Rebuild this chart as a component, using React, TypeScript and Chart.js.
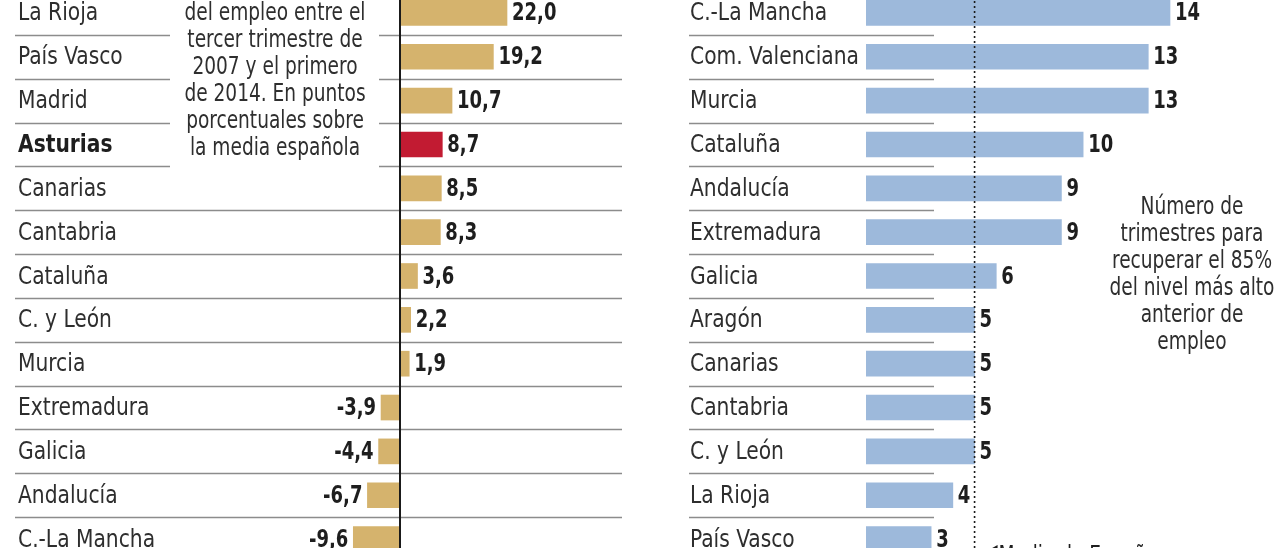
import React, { useEffect, useRef } from "react";
import { Chart, registerables } from "chart.js";

Chart.register(...registerables);

// ---------- DATA ----------
const leftCategories = [
  "La Rioja", "País Vasco", "Madrid", "Asturias", "Canarias", "Cantabria", "Cataluña",
  "C. y León", "Murcia", "Extremadura", "Galicia", "Andalucía", "C.-La Mancha",
];
const leftValues = [22.0, 19.2, 10.7, 8.7, 8.5, 8.3, 3.6, 2.2, 1.9, -3.9, -4.4, -6.7, -9.6];
const highlightRegion = "Asturias";

const rightCategories = [
  "C.-La Mancha", "Com. Valenciana", "Murcia", "Cataluña", "Andalucía", "Extremadura",
  "Galicia", "Aragón", "Canarias", "Cantabria", "C. y León", "La Rioja", "País Vasco",
];
const rightValues = [14, 13, 13, 10, 9, 9, 6, 5, 5, 5, 5, 4, 3];
const spainAverage = 5;
const spainAverageLabel = "Media de España";

const leftNote = [
  "del empleo entre el", "tercer trimestre de", "2007 y el primero",
  "de 2014. En puntos", "porcentuales sobre", "la media española",
];
const rightNote = [
  "Número de", "trimestres para", "recuperar el 85%", "del nivel más alto", "anterior de", "empleo",
];

// ---------- STYLE ----------
const FONT = '"DejaVu Sans Condensed", "Liberation Sans Narrow", sans-serif';
const GOLD = "#d5b36d";
const RED = "#c21b32";
const BLUE = "#9db9db";
const TEXT = "#2e2e2e";
const VALUE = "#1e1e1e";
const RULE = "#8c8c8c";
const OFFSET = 9; // canvas is shifted up by this many px
const W = 640;
const H = 570;

const LABEL_FONT = `25px ${FONT}`;
const LABEL_BOLD = `bold 25px ${FONT}`;
const LABEL_SX = 0.9;
const VALUE_FONT = `bold 25px ${FONT}`;
const VALUE_SX = 0.8;
const NOTE_FONT = `24px ${FONT}`;
const NOTE_SX = 0.86;

const fmtLeft = (v: number) => v.toFixed(1).replace(".", ",");

function drawText(
  ctx: CanvasRenderingContext2D,
  text: string,
  x: number,
  y: number,
  align: CanvasTextAlign,
  font: string,
  sx: number,
  color: string
) {
  ctx.save();
  ctx.font = font;
  ctx.fillStyle = color;
  ctx.textAlign = align;
  ctx.textBaseline = "middle";
  ctx.translate(x, y);
  ctx.scale(sx, 1);
  ctx.fillText(text, 0, 0);
  ctx.restore();
}

const leftPlugin = {
  id: "leftDeco",
  beforeDatasetsDraw(chart: any) {
    const ctx = chart.ctx;
    const y = chart.scales.y;
    ctx.save();
    ctx.strokeStyle = RULE;
    ctx.lineWidth = 1.5;
    for (let i = 0; i < leftCategories.length - 1; i++) {
      const yy = Math.round((y.getPixelForValue(i) + y.getPixelForValue(i + 1)) / 2) + 0.5;
      const segs = i < 4 ? [[15, 170], [379, 622]] : [[15, 622]];
      for (const [a, b] of segs) {
        ctx.beginPath();
        ctx.moveTo(a, yy);
        ctx.lineTo(b, yy);
        ctx.stroke();
      }
    }
    ctx.restore();
  },
  afterDatasetsDraw(chart: any) {
    const ctx = chart.ctx;
    const x = chart.scales.x;
    const y = chart.scales.y;
    ctx.save();
    const x0 = x.getPixelForValue(0);
    ctx.strokeStyle = "#1a1a1a";
    ctx.lineWidth = 2;
    ctx.beginPath();
    ctx.moveTo(x0, 0);
    ctx.lineTo(x0, chart.height);
    ctx.stroke();
    ctx.restore();

    leftCategories.forEach((c, i) => {
      const yy = y.getPixelForValue(i) + 1;
      const bold = c === highlightRegion;
      drawText(ctx, c, 18, yy, "left", bold ? LABEL_BOLD : LABEL_FONT, LABEL_SX, bold ? VALUE : TEXT);
      const v = leftValues[i];
      const xe = x.getPixelForValue(v);
      if (v >= 0) drawText(ctx, fmtLeft(v), xe + 5, yy, "left", VALUE_FONT, VALUE_SX, VALUE);
      else drawText(ctx, fmtLeft(v), xe - 5, yy, "right", VALUE_FONT, VALUE_SX, VALUE);
    });

    leftNote.forEach((t, i) => {
      drawText(ctx, t, 275, 14 + OFFSET + i * 27, "center", NOTE_FONT, NOTE_SX, TEXT);
    });
  },
};

const rightPlugin = {
  id: "rightDeco",
  beforeDatasetsDraw(chart: any) {
    const ctx = chart.ctx;
    const y = chart.scales.y;
    ctx.save();
    ctx.strokeStyle = RULE;
    ctx.lineWidth = 1.5;
    for (let i = 0; i < rightCategories.length - 1; i++) {
      const yy = Math.round((y.getPixelForValue(i) + y.getPixelForValue(i + 1)) / 2) + 0.5;
      ctx.beginPath();
      ctx.moveTo(49, yy);
      ctx.lineTo(294, yy);
      ctx.stroke();
    }
    ctx.restore();
  },
  afterDatasetsDraw(chart: any) {
    const ctx = chart.ctx;
    const x = chart.scales.x;
    const y = chart.scales.y;
    const xa = x.getPixelForValue(spainAverage);
    ctx.save();
    ctx.strokeStyle = "#1a1a1a";
    ctx.lineWidth = 1.6;
    ctx.setLineDash([2, 3]);
    ctx.beginPath();
    ctx.moveTo(xa, 0);
    ctx.lineTo(xa, chart.height);
    ctx.stroke();
    ctx.restore();

    rightCategories.forEach((c, i) => {
      const yy = y.getPixelForValue(i) + 1;
      drawText(ctx, c, 50, yy, "left", LABEL_FONT, LABEL_SX, TEXT);
      const v = rightValues[i];
      drawText(ctx, String(v), x.getPixelForValue(v) + 5, yy, "left", VALUE_FONT, VALUE_SX, VALUE);
    });

    rightNote.forEach((t, i) => {
      drawText(ctx, t, 552, 208 + OFFSET + i * 27, "center", NOTE_FONT, NOTE_SX, TEXT);
    });

    // average label (cut off at the bottom of the picture)
    const ly = 557 + OFFSET;
    ctx.save();
    ctx.fillStyle = VALUE;
    ctx.beginPath();
    ctx.moveTo(xa + 14, ly - 7);
    ctx.lineTo(xa + 23, ly - 12);
    ctx.lineTo(xa + 23, ly - 2);
    ctx.closePath();
    ctx.fill();
    ctx.restore();
    drawText(ctx, spainAverageLabel, xa + 24, ly, "left", NOTE_FONT, NOTE_SX, VALUE);
  },
};

function makeChart(
  canvas: HTMLCanvasElement,
  labels: string[],
  values: number[],
  colors: string[],
  xMin: number,
  xMax: number,
  padLeft: number,
  plugin: any
) {
  return new Chart(canvas, {
    type: "bar",
    data: {
      labels,
      datasets: [
        {
          data: values,
          backgroundColor: colors,
          borderWidth: 0,
          barThickness: 25,
        },
      ],
    },
    options: {
      indexAxis: "y",
      animation: false,
      responsive: false,
      maintainAspectRatio: false,
      layout: { padding: { left: padLeft, right: 0, top: 0, bottom: 0 } },
      scales: {
        x: { type: "linear", min: xMin, max: xMax, display: false },
        y: { type: "category", display: false, offset: true },
      },
      plugins: { legend: { display: false }, tooltip: { enabled: false } },
    },
    plugins: [plugin],
  } as any);
}

export default function App() {
  const leftRef = useRef<HTMLCanvasElement>(null);
  const rightRef = useRef<HTMLCanvasElement>(null);

  useEffect(() => {
    document.body.style.margin = "0";
    const leftScale = 107 / 22; // px per point
    const rightScale = 304 / 14; // px per quarter
    const c1 = makeChart(
      leftRef.current!,
      leftCategories,
      leftValues,
      leftCategories.map((c) => (c === highlightRegion ? RED : GOLD)),
      -400 / leftScale,
      (W - 400) / leftScale,
      0,
      leftPlugin
    );
    const c2 = makeChart(
      rightRef.current!,
      rightCategories,
      rightValues,
      rightCategories.map(() => BLUE),
      0,
      (W - 226) / rightScale,
      226,
      rightPlugin
    );
    return () => {
      c1.destroy();
      c2.destroy();
    };
  }, []);

  return (
    <div
      style={{
        position: "absolute",
        left: 0,
        top: 0,
        width: 1280,
        height: 548,
        overflow: "hidden",
        background: "#ffffff",
      }}
    >
      <canvas
        ref={leftRef}
        width={W}
        height={H}
        style={{ position: "absolute", left: 0, top: -OFFSET, width: W, height: H }}
      />
      <canvas
        ref={rightRef}
        width={W}
        height={H}
        style={{ position: "absolute", left: 640, top: -OFFSET, width: W, height: H }}
      />
    </div>
  );
}
